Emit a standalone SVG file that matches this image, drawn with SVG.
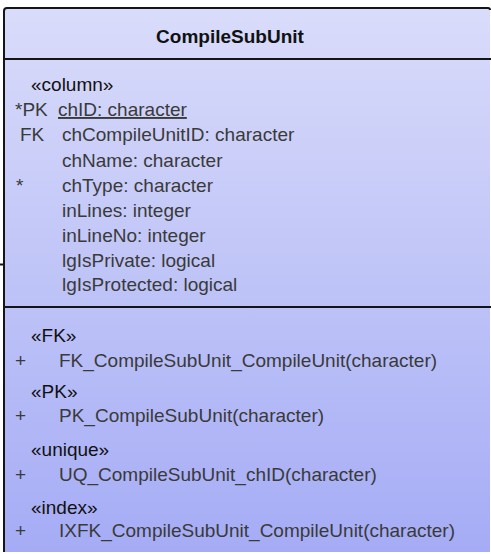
<svg xmlns="http://www.w3.org/2000/svg" width="491" height="554" viewBox="0 0 491 554">
<style>
.t{font-family:"Liberation Sans",Arial,sans-serif;font-size:19px;fill:#3a3a3a}
.s{font-family:"Liberation Sans",Arial,sans-serif;font-size:19px;fill:#111}
.h{font-family:"Liberation Sans",Arial,sans-serif;font-size:19px;font-weight:bold;fill:#111}
.ln{stroke:#151515;stroke-width:2;fill:none}
</style>
<defs>
<linearGradient id="g" x1="0" y1="0" x2="0" y2="1">
<stop offset="0" stop-color="#D9DCFA"/>
<stop offset="1" stop-color="#A5ACF5"/>
</linearGradient>
</defs>
<g id="connectors">
<line class="ln" x1="0" y1="264.5" x2="4" y2="264.5"/>
</g>
<g id="CompileSubUnit">
<rect x="4" y="8" width="486" height="544" fill="url(#g)"/>
<path class="ln" d="M4,552 V11 Q4,8 7,8 H488 Q490,8 490,10"/>
<line class="ln" x1="4" y1="59" x2="491" y2="59"/>
<line class="ln" x1="4" y1="307" x2="491" y2="307"/>
<text class="h" x="230" y="43" text-anchor="middle">CompileSubUnit</text>
<text class="s" x="31" y="91">«column»</text>
<text class="t" x="15" y="116">*PK</text>
<text class="t" x="58" y="116" text-decoration="underline">chID: character</text>
<text class="t" x="20" y="141">FK</text>
<text class="t" x="62" y="141">chCompileUnitID: character</text>
<text class="t" x="62" y="167">chName: character</text>
<text class="t" x="16" y="192">*</text>
<text class="t" x="62" y="192">chType: character</text>
<text class="t" x="62" y="217">inLines: integer</text>
<text class="t" x="62" y="242">inLineNo: integer</text>
<text class="t" x="62" y="267">lgIsPrivate: logical</text>
<text class="t" x="62" y="291">lgIsProtected: logical</text>
<text class="s" x="31" y="342">«FK»</text>
<text class="t" x="15" y="367">+</text>
<text class="t" x="59" y="367">FK_CompileSubUnit_CompileUnit(character)</text>
<text class="s" x="31" y="398">«PK»</text>
<text class="t" x="15" y="422">+</text>
<text class="t" x="59" y="422">PK_CompileSubUnit(character)</text>
<text class="s" x="31" y="456">«unique»</text>
<text class="t" x="15" y="481">+</text>
<text class="t" x="59" y="481">UQ_CompileSubUnit_chID(character)</text>
<text class="s" x="31" y="514">«index»</text>
<text class="t" x="15" y="537">+</text>
<text class="t" x="59" y="537">IXFK_CompileSubUnit_CompileUnit(character)</text>
</g>
</svg>
